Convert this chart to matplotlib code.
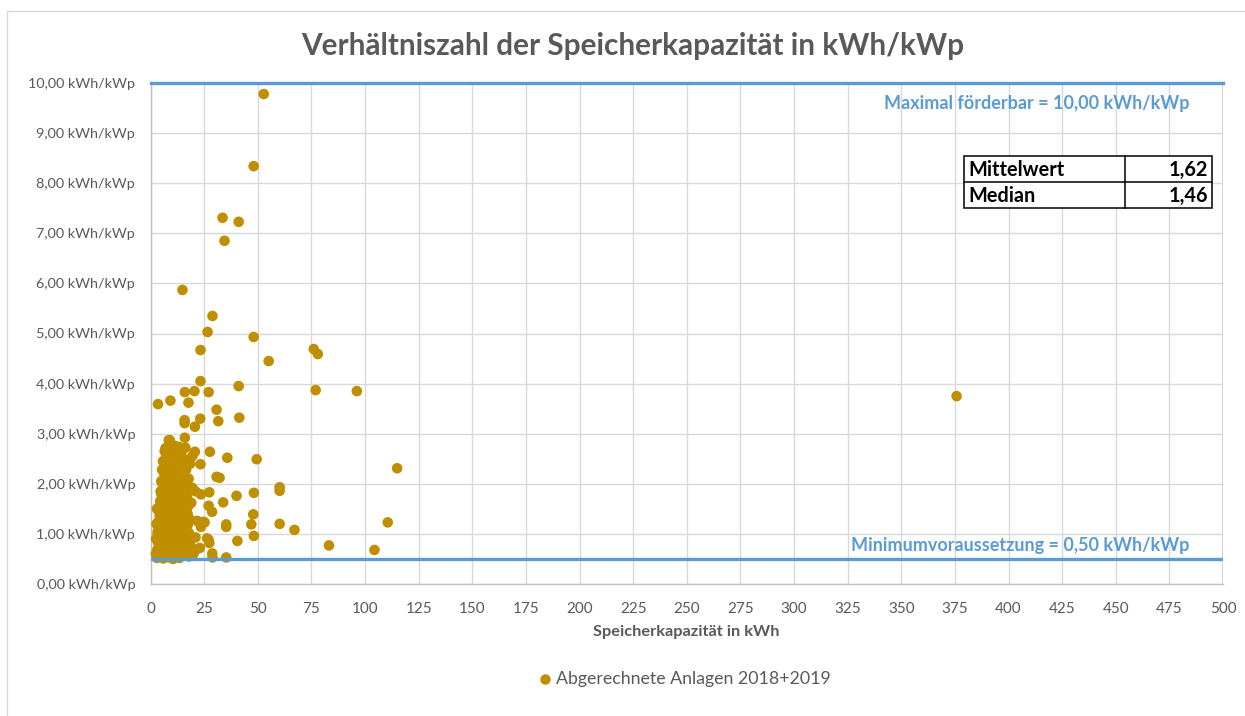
import matplotlib
matplotlib.use("Agg")
import matplotlib.pyplot as plt
from matplotlib.patches import Rectangle
from matplotlib.lines import Line2D

plt.rcParams['font.family'] = ['Lato', 'DejaVu Sans']

# ---------------- data ----------------
title = "Verhältniszahl der Speicherkapazität in kWh/kWp"
x_label = "Speicherkapazität in kWh"
series_name = "Abgerechnete Anlagen 2018+2019"

x_ticks = [0, 25, 50, 75, 100, 125, 150, 175, 200, 225, 250, 275, 300, 325, 350, 375, 400, 425, 450, 475, 500]
y_ticks = [0, 1, 2, 3, 4, 5, 6, 7, 8, 9, 10]
y_tick_labels = ["0,00 kWh/kWp", "1,00 kWh/kWp", "2,00 kWh/kWp", "3,00 kWh/kWp", "4,00 kWh/kWp",
                 "5,00 kWh/kWp", "6,00 kWh/kWp", "7,00 kWh/kWp", "8,00 kWh/kWp", "9,00 kWh/kWp",
                 "10,00 kWh/kWp"]

max_value = 10.0
min_value = 0.5
max_label = "Maximal förderbar = 10,00 kWh/kWp"
min_label = "Minimumvoraussetzung = 0,50 kWh/kWp"
stats_names = ["Mittelwert", "Median"]
stats_values = ["1,62", "1,46"]

# outlying points (kWh, kWh/kWp)
outlier_x = [52.8, 48.1, 33.6, 41.1, 34.5, 14.9, 28.9, 26.6, 48.1, 23.3, 76.1, 78.0, 55.1, 23.3,
             41.1, 77.0, 96.2, 375.8, 3.5, 9.3, 16.0, 20.5, 27.1, 17.7, 30.8, 15.9, 15.9, 23.2,
             20.7, 31.6, 41.4, 115.0, 49.5, 35.8, 27.7, 23.3, 30.8, 32.2, 19.5, 60.2, 60.2, 48.2,
             40.1, 27.4, 23.5, 33.9, 27.1, 28.7, 47.9, 35.3, 35.3, 47.0, 60.2, 67.1, 110.6, 48.2,
             40.5, 83.2, 104.4, 27.1, 27.4, 28.8, 28.9, 35.3, 25.2, 23.5, 21.7, 21.0, 17.9]
outlier_y = [9.78, 8.34, 7.31, 7.23, 6.85, 5.87, 5.35, 5.03, 4.93, 4.67, 4.69, 4.59, 4.45, 4.05,
             3.95, 3.87, 3.85, 3.75, 3.59, 3.66, 3.83, 3.85, 3.83, 3.62, 3.48, 3.27, 3.21, 3.30,
             3.14, 3.25, 3.32, 2.31, 2.49, 2.52, 2.64, 2.39, 2.14, 2.12, 1.92, 1.93, 1.86, 1.82,
             1.76, 1.83, 1.79, 1.63, 1.56, 1.44, 1.39, 1.19, 1.14, 1.19, 1.20, 1.08, 1.23, 0.96,
             0.86, 0.77, 0.68, 0.88, 0.82, 0.61, 0.53, 0.53, 1.23, 1.14, 1.26, 0.93, 0.55]

# dense cluster of small storage systems
cluster_x = [3.0, 4.5, 6.0, 7.5, 9.0, 10.5, 12.0, 13.5, 15.0, 20.0, 11.0, 5.5, 2.5,
             3.2, 4.8, 6.3, 8.0, 9.6, 11.2, 12.8, 14.3, 16.0, 18.5, 21.0, 23.0, 7.0, 13.0, 2.6,
             3.5, 5.0, 6.8, 8.5, 10.0, 11.5, 13.0, 14.8, 16.5, 18.0, 26.4, 4.2, 9.2,
             3.4, 5.2, 6.6, 8.2, 9.8, 11.4, 13.0, 14.6, 16.2, 17.5, 7.4, 12.2, 2.8,
             3.8, 5.4, 7.0, 8.6, 10.2, 11.8, 13.4, 15.0, 16.5, 24.7, 6.2,
             4.0, 5.6, 7.2, 8.8, 10.4, 12.0, 13.6, 15.2, 9.6, 6.4, 3.0,
             4.5, 6.0, 7.6, 9.2, 10.8, 12.4, 14.0, 15.6, 17.0, 19.0,
             4.7, 6.3, 7.9, 9.5, 11.1, 12.7, 14.3, 16.0, 17.5, 21.0,
             5.0, 6.6, 8.2, 9.8, 11.4, 13.0, 14.6, 16.2, 17.8, 7.4,
             5.4, 7.0, 8.6, 10.2, 11.8, 13.4, 15.0, 16.6, 18.5,
             5.8, 7.4, 9.0, 10.6, 12.2, 13.8, 15.4, 17.0, 19.5, 20.7,
             6.6, 7.0, 9.4, 11.0, 13.1, 14.6, 16.3, 8.5, 16.0, 12.0, 9.0,
             # second layer filling the gaps
             3.8, 5.3, 6.9, 8.4, 9.9, 11.6, 13.1, 14.7, 16.3, 17.6, 19.2,
             3.6, 5.1, 6.7, 8.3, 9.9, 11.5, 13.2, 14.9, 16.8, 18.9,
             3.3, 4.9, 6.5, 8.1, 9.7, 11.3, 12.9, 14.5, 16.1, 17.9,
             3.9, 5.5, 7.1, 8.7, 10.3, 11.9, 13.5, 15.1, 16.7, 18.2,
             4.3, 5.9, 7.5, 9.1, 10.7, 12.3, 13.9, 15.5, 17.3,
             4.6, 6.2, 7.8, 9.4, 11.0, 12.6, 14.2, 15.8, 17.4,
             5.1, 6.7, 8.3, 9.9, 11.5, 13.1, 14.7, 16.4,
             5.6, 7.2, 8.8, 10.4, 12.0, 13.6, 15.2, 16.9,
             6.3, 7.9, 9.5, 11.1, 12.7, 14.3, 15.9,
             7.6, 9.2, 10.8, 12.4, 14.0]
cluster_y = [0.52, 0.55, 0.51, 0.56, 0.53, 0.50, 0.55, 0.52, 0.57, 0.60, 0.60, 0.62, 0.60,
             0.68, 0.72, 0.66, 0.75, 0.70, 0.78, 0.66, 0.74, 0.70, 0.78, 0.68, 0.72, 0.80, 0.82, 0.90,
             0.85, 0.90, 0.95, 0.88, 0.97, 0.86, 0.94, 0.88, 0.98, 0.85, 0.91, 1.00, 0.82,
             1.05, 1.10, 1.03, 1.15, 1.08, 1.18, 1.06, 1.14, 1.04, 1.19, 1.20, 1.12, 1.20,
             1.25, 1.32, 1.28, 1.38, 1.24, 1.35, 1.27, 1.36, 1.22, 1.24, 1.40,
             1.45, 1.52, 1.42, 1.58, 1.48, 1.55, 1.43, 1.57, 1.60, 1.60, 1.50,
             1.65, 1.75, 1.68, 1.78, 1.64, 1.72, 1.80, 1.66, 1.74, 1.62,
             1.85, 1.95, 1.88, 1.98, 1.84, 1.92, 1.86, 1.97, 1.90, 1.85,
             2.05, 2.15, 2.02, 2.18, 2.08, 2.20, 2.04, 2.14, 2.10, 2.22,
             2.28, 2.36, 2.25, 2.38, 2.30, 2.24, 2.35, 2.28, 2.40,
             2.45, 2.55, 2.48, 2.58, 2.44, 2.56, 2.50, 2.46, 2.55, 2.64,
             2.65, 2.71, 2.68, 2.76, 2.74, 2.66, 2.72, 2.87, 2.92, 2.62, 2.87,
             0.62, 0.58, 0.63, 0.61, 0.59, 0.64, 0.60, 0.62, 0.58, 0.63, 0.66,
             0.82, 0.79, 0.84, 0.81, 0.86, 0.80, 0.83, 0.78, 0.82, 0.90,
             1.00, 1.02, 0.97, 1.01, 0.99, 1.03, 0.98, 1.02, 0.96, 1.02,
             1.16, 1.20, 1.17, 1.22, 1.15, 1.21, 1.18, 1.24, 1.14, 1.30,
             1.36, 1.41, 1.34, 1.39, 1.33, 1.42, 1.37, 1.30, 1.40,
             1.56, 1.62, 1.54, 1.60, 1.57, 1.63, 1.55, 1.61, 1.54,
             1.78, 1.84, 1.76, 1.82, 1.77, 1.83, 1.75, 1.81,
             2.00, 2.06, 1.98, 2.04, 1.99, 2.05, 1.97, 2.03,
             2.22, 2.18, 2.24, 2.19, 2.23, 2.17, 2.21,
             2.42, 2.38, 2.44, 2.39, 2.43]

# ---------------- figure ----------------
W, H = 1245, 716
fig = plt.figure(figsize=(W / 100, H / 100), dpi=100)
fig.patch.set_facecolor("white")

def fx(px):
    return px / W

def fy(py):
    return 1 - py / H

# outer chart border (only left/top visible in crop)
fig.add_artist(Rectangle((fx(7), fy(760)), fx(1300) - fx(7), fy(11) - fy(760),
                         transform=fig.transFigure, fill=False, edgecolor="#D9D9D9", lw=1))

ax = fig.add_axes([fx(150.5), fy(584), fx(1223) - fx(150.5), fy(83) - fy(584)])
ax.set_xlim(0, 500)
ax.set_ylim(0, 10)

text_gray = "#595959"
grid_gray = "#D9D9D9"
gold = "#BF8F00"
blue = "#5B9BD5"

ax.set_xticks(x_ticks)
ax.set_xticklabels([str(t) for t in x_ticks], fontsize=11, color=text_gray)
ax.set_yticks(y_ticks)
ax.set_yticklabels(y_tick_labels, fontsize=10.4, color=text_gray)
ax.tick_params(axis="y", length=0, pad=11)
ax.tick_params(axis="x", length=0, pad=13)
ax.grid(True, color=grid_gray, lw=1)
ax.set_axisbelow(True)
for s in ["top", "right"]:
    ax.spines[s].set_visible(False)
for s in ["left", "bottom"]:
    ax.spines[s].set_color("#BFBFBF")
    ax.spines[s].set_linewidth(1)
ax.axvline(500, color="#D0D0D0", lw=1.2, zorder=1)

ax.scatter(cluster_x + outlier_x, cluster_y + outlier_y, s=58, color=gold,
           edgecolors="none", zorder=3, clip_on=False)

ax.axhline(max_value, color=blue, lw=2.4, zorder=4, clip_on=False)
ax.axhline(min_value, color=blue, lw=2.4, zorder=4)

ax.text(fx(1190), fy(104), max_label, transform=fig.transFigure, ha="right", va="center",
        fontsize=13, fontweight="bold", color=blue)
ax.text(fx(1189), fy(546), min_label, transform=fig.transFigure, ha="right", va="center",
        fontsize=13, fontweight="bold", color=blue, zorder=5)

# statistics table
tl, tr, tt, tb, tm, tc = 964, 1211.5, 156, 208.5, 182.3, 1124.5
fig.add_artist(Rectangle((fx(tl), fy(tb)), fx(tr) - fx(tl), fy(tt) - fy(tb),
                         transform=fig.transFigure, facecolor="white", edgecolor="black", lw=1.1))
fig.add_artist(Line2D([fx(tl), fx(tr)], [fy(tm), fy(tm)], transform=fig.transFigure,
                      color="black", lw=1.1))
fig.add_artist(Line2D([fx(tc), fx(tc)], [fy(tt), fy(tb)], transform=fig.transFigure,
                      color="black", lw=1.1))
row_centers = [(tt + tm) / 2, (tm + tb) / 2]
for name, val, rc in zip(stats_names, stats_values, row_centers):
    fig.text(fx(tl + 4), fy(rc + 1), name, ha="left", va="center", fontsize=14.3,
             fontweight="bold", color="black")
    fig.text(fx(tr - 3), fy(rc + 1), val, ha="right", va="center", fontsize=14.3,
             fontweight="bold", color="black")

fig.text(fx(633), fy(46), title, ha="center", va="center", fontsize=21.4,
         fontweight="bold", color=text_gray)
fig.text(fx(686), fy(632), x_label, ha="center", va="center", fontsize=11.8,
         fontweight="bold", color=text_gray)

# legend
fig.add_artist(Line2D([fx(545)], [fy(679)], transform=fig.transFigure, marker="o",
                      markersize=7.5, color=gold, markeredgewidth=0, linestyle="none"))
fig.text(fx(556), fy(679), series_name, ha="left", va="center", fontsize=12.8, color=text_gray)

fig.savefig("out.png", dpi=100, facecolor="white")
